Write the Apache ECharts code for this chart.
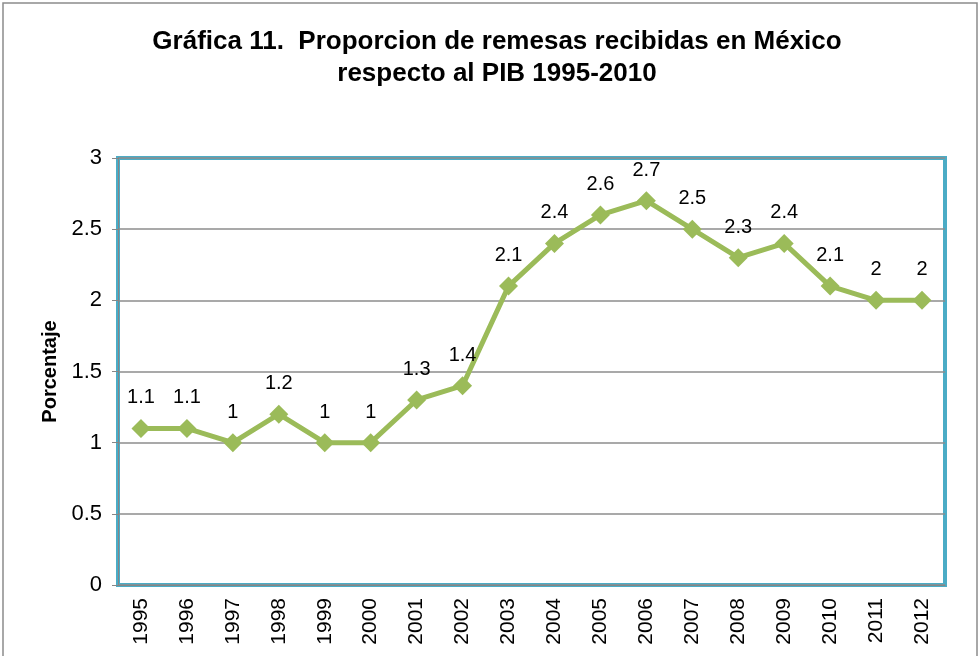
<!DOCTYPE html>
<html lang="es">
<head>
    <meta charset="UTF-8">
    <title>Remesas</title>
    <script src="https://cdn.jsdelivr.net/npm/echarts@6/dist/echarts.min.js"></script>
</head>
<style>
    * { margin: 0; padding: 0; }
    html, body { width: 100%; height: 100%; overflow: hidden; background: #fff; }
    .container { width: 980px; height: 656px; }
</style>
<body>
    <div class="container"></div>
</body>
<script>
    let years = ['1995','1996','1997','1998','1999','2000','2001','2002','2003','2004','2005','2006','2007','2008','2009','2010','2011','2012'];
    let porcentaje = [1.1, 1.1, 1, 1.2, 1, 1, 1.3, 1.4, 2.1, 2.4, 2.6, 2.7, 2.5, 2.3, 2.4, 2.1, 2, 2];
    let yTicks = [0, 0.5, 1, 1.5, 2, 2.5, 3];

    let mycharts = echarts.init(document.querySelector('.container'));
    let font = 'Liberation Sans, Arial, sans-serif';

    let option = {
        backgroundColor: '#fff',
        animation: false,
        graphic: [{
            type: 'rect',
            shape: { x: 3, y: 3, width: 974, height: 660 },
            style: { fill: 'none', stroke: '#8c8c8c', lineWidth: 1.5 },
            silent: true
        }],
        title: {
            text: 'Gráfica 11.  Proporcion de remesas recibidas en México\nrespecto al PIB 1995-2010',
            left: 492,
            textAlign: 'center',
            top: 21,
            textStyle: {
                fontFamily: font,
                fontSize: 26,
                fontWeight: 'bold',
                color: '#000',
                lineHeight: 32
            }
        },
        grid: {
            left: 118,
            right: 35,
            top: 158,
            bottom: 71,
            show: true,
            borderColor: '#4BACC6',
            borderWidth: 4,
            containLabel: false
        },
        xAxis: {
            type: 'category',
            data: years,
            boundaryGap: true,
            axisLine: { show: true, lineStyle: { color: '#868686', width: 1 } },
            axisTick: { show: false },
            axisLabel: {
                rotate: 90,
                margin: 13,
                fontFamily: font,
                fontSize: 21,
                color: '#000',
                interval: 0
            }
        },
        yAxis: {
            type: 'value',
            min: yTicks[0],
            max: yTicks[yTicks.length - 1],
            interval: 0.5,
            name: 'Porcentaje',
            nameLocation: 'middle',
            nameGap: 57,
            nameTextStyle: {
                fontFamily: font,
                fontSize: 20,
                fontWeight: 'bold',
                color: '#000'
            },
            axisLine: { show: true, lineStyle: { color: '#868686', width: 1 } },
            axisTick: { show: true, length: 6, lineStyle: { color: '#868686' } },
            axisLabel: {
                margin: 16,
                fontFamily: font,
                fontSize: 22,
                color: '#000'
            },
            splitLine: { lineStyle: { color: '#8c8c8c', width: 1.5 } }
        },
        series: [{
            type: 'line',
            data: porcentaje,
            symbol: 'diamond',
            symbolSize: 19,
            itemStyle: { color: '#9BBB59' },
            lineStyle: { color: '#9BBB59', width: 5 },
            label: {
                show: true,
                position: 'top',
                distance: 11,
                fontFamily: font,
                fontSize: 20,
                color: '#000'
            }
        }]
    };
    mycharts.setOption(option);
</script>
</html>
